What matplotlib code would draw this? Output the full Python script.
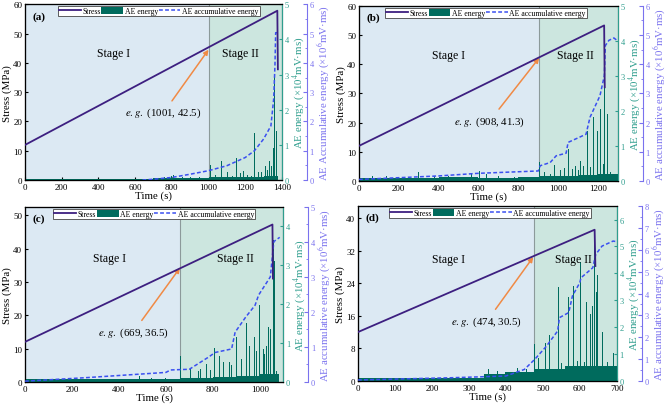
import numpy as np
import matplotlib.pyplot as plt
from matplotlib.patches import Patch
from matplotlib.lines import Line2D
from matplotlib.ticker import AutoMinorLocator

plt.rcParams['font.family'] = ['Liberation Serif', 'DejaVu Serif']
plt.rcParams['mathtext.fontset'] = 'stix'

# ---------------- panel (a) ----------------
a_stress_t = [0, 1375, 1378]
a_stress_v = [12.0, 57.8, 37.8]
a_base_t = [0, 600, 700, 800, 900, 1000, 1100, 1200, 1300, 1378]
a_base_v = [0.02, 0.03, 0.05, 0.06, 0.05, 0.08, 0.08, 0.1, 0.12, 0.0]
a_spike_t = [720, 760, 800, 809, 860, 900, 950, 1009, 1040, 1073, 1105, 1130, 1151, 1175,
             1191, 1210, 1236, 1251, 1273, 1291, 1309, 1320, 1333, 1345, 1352, 1357, 1362, 1368]
a_spike_v = [0.05, 0.08, 0.12, 0.14, 0.08, 0.1, 0.1, 0.44, 0.15, 0.53, 0.22, 0.12, 0.62, 0.2,
             0.27, 0.15, 0.12, 1.33, 0.22, 0.22, 0.41, 0.3, 0.53, 0.4, 0.9, 3.9, 3.0, 1.4]
a_acc_t = [640, 700, 800, 900, 1000, 1100, 1200, 1250, 1300, 1340, 1355, 1362, 1366, 1380]
a_acc_v = [0.0, 0.03, 0.09, 0.2, 0.32, 0.49, 0.77, 1.0, 1.4, 1.85, 2.76, 3.9, 5.03, 5.03]

# ---------------- panel (b) ----------------
b_stress_t = [0, 1231, 1234]
b_stress_v = [12.0, 53.3, 32.1]
b_base_t = [0, 200, 400, 600, 800, 905, 1000, 1100, 1200, 1300]
b_base_v = [0.09, 0.08, 0.1, 0.09, 0.1, 0.13, 0.15, 0.18, 0.2, 0.2]
b_spike_t = [67, 139, 200, 301, 380, 450, 520, 565, 607, 640, 700, 780, 860, 908, 933, 963,
             983, 1010, 1030, 1050, 1070, 1087, 1100, 1114, 1127, 1145, 1160, 1176, 1196,
             1212, 1226, 1231, 1247, 1264, 1285]
b_spike_v = [0.14, 0.14, 0.1, 0.24, 0.14, 0.14, 0.12, 0.2, 0.29, 0.2, 0.14, 0.12, 0.12, 0.53,
             0.25, 0.2, 0.46, 0.3, 0.38, 0.91, 0.35, 0.43, 0.3, 0.57, 0.43, 1.43, 0.4, 1.82,
             1.43, 2.06, 0.48, 3.85, 1.91, 0.26, 0.15]
b_acc_t = [0, 400, 600, 900, 910, 960, 990, 1040, 1050, 1140, 1160, 1210, 1232, 1237, 1255,
           1280, 1295]
b_acc_v = [0.05, 0.17, 0.26, 0.34, 0.52, 0.63, 0.86, 0.95, 1.32, 1.6, 2.18, 2.92, 3.61, 4.64,
           4.82, 4.9, 4.82]

# ---------------- panel (c) ----------------
c_stress_t = [0, 1054, 1056]
c_stress_v = [12.0, 47.2, 31.0]
c_base_t = [0, 200, 400, 600, 660, 800, 900, 1000, 1080]
c_base_v = [0.08, 0.07, 0.08, 0.08, 0.1, 0.12, 0.15, 0.2, 0.05]
c_spike_t = [270, 489, 540, 600, 664, 705, 738, 748, 773, 790, 809, 830, 847, 870, 879, 901,
             923, 943, 957, 979, 986, 997, 1014, 1021, 1028, 1037, 1045, 1052, 1057, 1062,
             1071, 1080]
c_spike_v = [0.07, 0.14, 0.1, 0.1, 0.66, 0.33, 0.29, 0.33, 0.46, 0.3, 0.86, 0.67, 0.5, 0.5,
             0.43, 1.15, 0.6, 1.52, 0.93, 1.15, 0.8, 1.97, 0.85, 0.72, 0.93, 1.41, 1.37, 3.2,
             3.65, 3.1, 0.29, 0.1]
c_acc_t = [0, 260, 600, 620, 700, 780, 810, 880, 895, 940, 980, 995, 1045, 1055, 1060, 1085]
c_acc_v = [0.02, 0.12, 0.27, 0.34, 0.36, 0.7, 0.84, 0.94, 1.42, 1.85, 2.19, 2.48, 3.0, 3.68,
           4.01, 4.13]

# ---------------- panel (d) ----------------
d_stress_t = [0, 640, 642]
d_stress_v = [12.0, 37.1, 28.2]
d_base_t = [0, 340, 400, 480, 560, 700]
d_base_v = [0.1, 0.25, 0.35, 0.45, 0.55, 0.55]
d_spike_t = [254, 353, 377, 400, 432, 455, 477, 488, 508, 517, 542, 551, 569, 583, 593, 603,
             612, 619, 628, 634, 640, 644, 648, 661, 675, 691]
d_spike_v = [0.16, 0.43, 0.37, 0.35, 0.5, 0.45, 1.37, 0.87, 1.4, 1.7, 3.48, 0.68, 3.14, 3.52,
             0.75, 4.41, 0.7, 2.94, 2.48, 2.8, 5.18, 3.3, 3.94, 1.83, 0.7, 1.06]
d_acc_t = [0, 250, 400, 450, 478, 510, 540, 545, 570, 580, 600, 603, 635, 643, 660, 690, 700]
d_acc_v = [0.05, 0.15, 0.23, 0.53, 0.99, 1.6, 2.29, 2.9, 3.13, 3.89, 4.5, 4.72, 5.18, 5.79,
           6.17, 6.4, 6.37]

# colours
C_STRESS = '#3d1f80'
C_BAR = '#006b5d'
C_TEAL = '#2f9e8e'
C_ACC = '#3a4ff0'
C_BLUE = '#7a72ee'
C_ORANGE = '#f08a45'
C_S1 = '#dce9f3'
C_S2 = '#cce6df'

fig = plt.figure(figsize=(6.69, 4.06), dpi=100)


def panel(rect, tag, st_t, st_v, base_t, base_v, sp_t, sp_v, acc_t, acc_v,
          xlim, xticks, ylim, yticks, elim, eticks, alim, aticks, bound,
          stage_y, s1_x, s2_x, note, note_xy, note_txt, acc_label, leg_x, bw):
    ax = fig.add_axes(rect)
    ax.axvspan(xlim[0], bound, color=C_S1, lw=0, zorder=0)
    ax.axvspan(bound, xlim[1], color=C_S2, lw=0, zorder=0)
    ax.axvline(bound, color='#8c9a9a', lw=0.8, zorder=1)
    ax.set_xlim(xlim)
    ax.set_ylim(ylim)
    ax.set_xticks(xticks)
    ax.set_yticks(yticks)
    ax.tick_params(direction='in', labelsize=6.5, length=2.5, pad=2)
    ax.set_xlabel('Time (s)', fontsize=7.8, labelpad=0)
    ax.set_ylabel('Stress (MPa)', fontsize=7.8, labelpad=1)

    ax2 = ax.twinx()
    ax2.fill_between(base_t, 0, base_v, step='post', color=C_BAR, lw=0, zorder=2)
    ax2.bar(sp_t, sp_v, width=bw, color=C_BAR, lw=0, zorder=2)
    ax2.set_ylim(elim)
    ax2.set_yticks(eticks)
    ax2.spines['right'].set_color(C_TEAL)
    ax2.tick_params(axis='y', colors=C_TEAL, labelsize=6, direction='in', length=2.5, pad=2)
    ax2.set_ylabel('AE energy (×10$^{4}$mV·ms)', color=C_TEAL, fontsize=7.8, labelpad=1)

    ax3 = ax.twinx()
    ax3.plot(acc_t, acc_v, color=C_ACC, lw=1.1, ls=(0, (2.5, 1.5)), zorder=3)
    ax3.set_ylim(alim)
    ax3.set_yticks(aticks)
    ax3.yaxis.set_minor_locator(AutoMinorLocator(2))
    ax3.spines['right'].set_position(('outward', 18))
    ax3.spines['right'].set_color(C_BLUE)
    ax3.tick_params(axis='y', which='both', colors=C_BLUE, labelsize=6, direction='in',
                    pad=2)
    ax3.tick_params(axis='y', which='major', length=3)
    ax3.tick_params(axis='y', which='minor', length=1.8)
    ax3.set_ylabel(acc_label, color=C_BLUE, fontsize=7.8, labelpad=1)

    # stress on top of everything
    ax4 = ax.twinx()
    ax4.set_ylim(ylim)
    ax4.axis('off')
    ax4.plot(st_t, st_v, color=C_STRESS, lw=1.3, zorder=4)
    ax4.annotate(note, xy=note_xy, xytext=note_txt, ha='center', va='center', fontsize=7.8,
                 arrowprops=dict(arrowstyle='-|>', color=C_ORANGE, lw=1.1,
                                 mutation_scale=7, shrinkA=2, shrinkB=0))
    ax4.text(s1_x, stage_y, 'Stage I', ha='center', va='center', fontsize=8.5)
    ax4.text(s2_x, stage_y, 'Stage II', ha='center', va='center', fontsize=8.5)
    ax4.text(0.028, 0.935, tag, transform=ax.transAxes, fontsize=8, fontweight='bold',
             ha='left', va='center')

    handles = [Line2D([], [], color=C_STRESS, lw=1.3),
               Patch(facecolor=C_BAR, edgecolor='none'),
               Line2D([], [], color=C_ACC, lw=1.1, ls=(0, (2.5, 1.5)))]
    leg = ax4.legend(handles, ['Stress', 'AE energy', 'AE accumulative energy'], ncol=3,
                     loc='upper center', bbox_to_anchor=(leg_x, 0.995), fontsize=5.6,
                     frameon=True, fancybox=False, edgecolor='#444444', framealpha=1,
                     handlelength=2.8, handletextpad=0.2, columnspacing=0.1,
                     borderpad=0.15, borderaxespad=0.1, handleheight=1.0)
    leg.get_frame().set_linewidth(0.6)


panel([0.0374, 0.554, 0.384, 0.433], '(a)', a_stress_t, a_stress_v, a_base_t, a_base_v,
      a_spike_t, a_spike_v, a_acc_t, a_acc_v,
      (0, 1400), range(0, 1401, 200), (0, 60), range(0, 61, 10), (0, 5), range(0, 6),
      (0, 6), range(0, 7), 1000, 43.5, 482, 1173, '$\\it{e.g.}$ (1001, 42.5)', (1000, 44.5),
      (755, 23), 'AE Accumulative energy (×10$^{6}$mV·ms)', 0.52, 5)

panel([0.5366, 0.552, 0.387, 0.431], '(b)', b_stress_t, b_stress_v, b_base_t, b_base_v,
      b_spike_t, b_spike_v, b_acc_t, b_acc_v,
      (0, 1300), range(0, 1201, 200), (0, 60), range(0, 61, 10), (0, 5), range(0, 6),
      (0, 6), range(0, 7), 905, 43.2, 448, 1087, '$\\it{e.g.}$ (908, 41.3)', (905, 42.2),
      (657, 20.6), 'AE accumulative energy (×10$^{6}$mV·ms)', 0.49, 5)

panel([0.0374, 0.057, 0.386, 0.431], '(c)', c_stress_t, c_stress_v, c_base_t, c_base_v,
      c_spike_t, c_spike_v, c_acc_t, c_acc_v,
      (0, 1100), range(0, 1001, 200), (0, 52.5), range(0, 51, 10), (0, 4.5), range(0, 5),
      (0, 5), range(0, 6), 660, 37.3, 359, 898, '$\\it{e.g.}$ (669, 36.5)', (660, 34.2),
      (461, 14.9), 'AE accumulative energy (×10$^{6}$mV·ms)', 0.50, 4)

panel([0.535, 0.059, 0.387, 0.431], '(d)', d_stress_t, d_stress_v, d_base_t, d_base_v,
      d_spike_t, d_spike_v, d_acc_t, d_acc_v,
      (0, 700), range(0, 701, 100), (0, 42.9), range(0, 41, 8), (0, 6.5), range(0, 7),
      (0, 8), range(0, 9), 477, 30, 245, 583, '$\\it{e.g.}$ (474, 30.5)', (474, 30.4),
      (349, 14.7), 'AE accumulative energy (×10$^{6}$mV·ms)', 0.51, 2.5)

fig.savefig('out.png', dpi=100)
